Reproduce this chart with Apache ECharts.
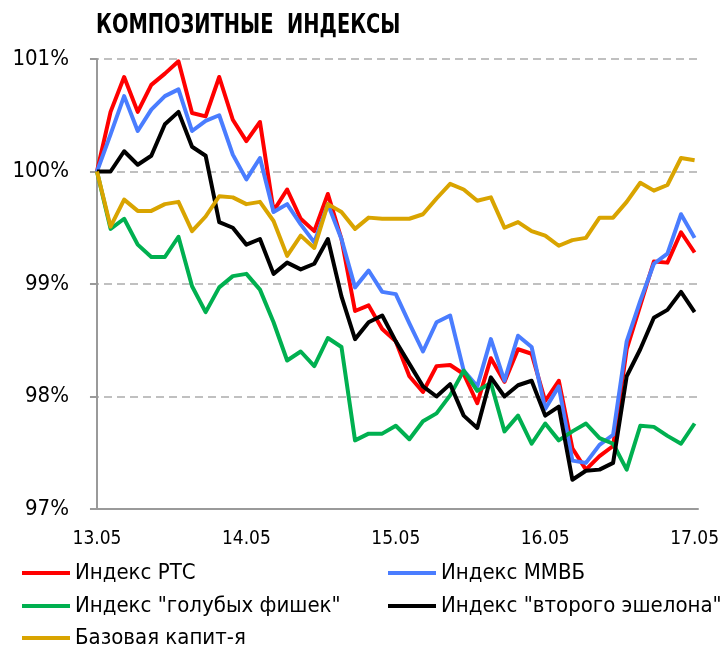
<!DOCTYPE html>
<html>
<head>
<meta charset="utf-8">
<script src="https://cdn.jsdelivr.net/npm/echarts@6/dist/echarts.min.js"></script>
<style>
  html, body { margin: 0; padding: 0; background: #fff; }
  #chart { width: 723px; height: 653px; }
</style>
</head>
<body>
<div id="chart"></div>
<script>
// day labels sit on every 11th point
var dayLabels = ['13.05', '14.05', '15.05', '16.05', '17.05'];
var dayIndex = [0, 11, 22, 33, 44];

var seriesNames = ['Индекс РТС', 'Индекс ММВБ', 'Индекс "голубых фишек"', 'Индекс "второго эшелона"', 'Базовая капит-я'];
var seriesColors = ['#ff0000', '#4a7dff', '#00b050', '#000000', '#d9a400'];

var rts = [100, 100.53, 100.84, 100.53, 100.77, 100.87, 100.98, 100.52, 100.49, 100.84, 100.46,
  100.27, 100.44, 99.65, 99.84, 99.58, 99.47, 99.80, 99.40, 98.76, 98.81, 98.60,
  98.49, 98.18, 98.04, 98.27, 98.28, 98.20, 97.94, 98.34, 98.13, 98.42, 98.38,
  97.96, 98.14, 97.54, 97.35, 97.47, 97.56, 98.42, 98.81, 99.20, 99.19, 99.46, 99.28];
var micex = [100, 100.33, 100.67, 100.36, 100.55, 100.67, 100.73, 100.36, 100.45, 100.50, 100.15,
  99.93, 100.12, 99.64, 99.71, 99.53, 99.37, 99.71, 99.40, 98.97, 99.12, 98.93,
  98.91, 98.65, 98.40, 98.66, 98.72, 98.23, 98.09, 98.51, 98.14, 98.54, 98.44,
  97.89, 98.09, 97.43, 97.41, 97.57, 97.66, 98.49, 98.85, 99.18, 99.27, 99.62, 99.41];
var blueChips = [100, 99.49, 99.58, 99.35, 99.24, 99.24, 99.42, 98.98, 98.75, 98.97, 99.07,
  99.09, 98.95, 98.66, 98.32, 98.40, 98.27, 98.52, 98.44, 97.61, 97.67, 97.67,
  97.74, 97.62, 97.78, 97.85, 98.01, 98.23, 98.05, 98.12, 97.69, 97.83, 97.58,
  97.76, 97.61, 97.69, 97.76, 97.63, 97.58, 97.35, 97.74, 97.73, 97.65, 97.58, 97.76];
var secondTier = [100, 100.0, 100.18, 100.06, 100.14, 100.42, 100.53, 100.22, 100.14, 99.55, 99.50,
  99.35, 99.40, 99.09, 99.19, 99.13, 99.18, 99.40, 98.89, 98.51, 98.66, 98.72,
  98.49, 98.29, 98.09, 98.00, 98.11, 97.83, 97.72, 98.17, 98.00, 98.10, 98.14,
  97.83, 97.91, 97.26, 97.34, 97.35, 97.41, 98.18, 98.42, 98.70, 98.77, 98.93, 98.75];
var baseCap = [100, 99.51, 99.75, 99.65, 99.65, 99.71, 99.73, 99.47, 99.60, 99.78, 99.77,
  99.71, 99.73, 99.56, 99.25, 99.43, 99.32, 99.71, 99.64, 99.49, 99.59, 99.58,
  99.58, 99.58, 99.62, 99.76, 99.89, 99.84, 99.74, 99.77, 99.50, 99.55, 99.47,
  99.43, 99.34, 99.39, 99.41, 99.59, 99.59, 99.73, 99.90, 99.83, 99.88, 100.12, 100.10];

var yTicks = [97, 98, 99, 100, 101];

var allData = [rts, micex, blueChips, secondTier, baseCap];
var font = '"DejaVu Sans Condensed", "DejaVu Sans", sans-serif';

var chart = echarts.init(document.getElementById('chart'));

var series = allData.map(function (vals, k) {
  return {
    name: seriesNames[k],
    type: 'line',
    data: vals.map(function (v, i) { return [i, v]; }),
    showSymbol: false,
    lineStyle: { width: 4, color: seriesColors[k], join: 'round' },
    itemStyle: { color: seriesColors[k] },
    z: 2 + k
  };
});

// one legend per item so the two columns line up like the original
var legendPos = [[22, 562], [388, 562], [22, 595], [388, 595], [22, 627]];
var legends = seriesNames.map(function (name, k) {
  return {
    data: [name],
    left: legendPos[k][0],
    top: legendPos[k][1],
    padding: 0,
    itemWidth: 48,
    itemHeight: 4,
    icon: 'rect',
    selectedMode: false,
    textStyle: { fontFamily: font, fontSize: 22, color: '#000' }
  };
});

chart.setOption({
  animation: false,
  // title drawn as text squeezed horizontally, the original uses a narrow bold face
  graphic: [{
    type: 'text',
    x: 96,
    y: 12,
    scaleX: 0.8,
    style: {
      text: 'КОМПОЗИТНЫЕ  ИНДЕКСЫ',
      font: 'bold 27px "DejaVu Sans Condensed", "DejaVu Sans", sans-serif',
      fill: '#000',
      verticalAlign: 'top'
    }
  }],
  legend: legends,
  grid: { left: 91, right: 25, top: 59, bottom: 144 },
  xAxis: {
    type: 'value',
    min: -0.44,
    max: 44.25,
    axisLine: { show: true, onZero: false, lineStyle: { color: '#9a9a9a', width: 2 } },
    axisTick: { show: false },
    splitLine: { show: false },
    axisLabel: {
      customValues: dayIndex,
      margin: 21,
      fontFamily: font,
      fontSize: 19,
      color: '#000',
      formatter: function (v) { return dayLabels[dayIndex.indexOf(Math.round(v))]; }
    }
  },
  yAxis: {
    type: 'value',
    min: yTicks[0],
    max: yTicks[yTicks.length - 1],
    interval: 1,
    axisLine: { show: true, lineStyle: { color: '#9a9a9a', width: 2 } },
    axisTick: { show: true, length: 7, lineStyle: { color: '#9a9a9a', width: 2 } },
    splitLine: { show: true, lineStyle: { color: '#c0c0c0', width: 2, type: [8, 5] } },
    axisLabel: {
      margin: 22,
      fontFamily: font,
      fontSize: 22,
      color: '#000',
      formatter: function (v) { return v + '%'; }
    }
  },
  series: series
});
</script>
</body>
</html>
